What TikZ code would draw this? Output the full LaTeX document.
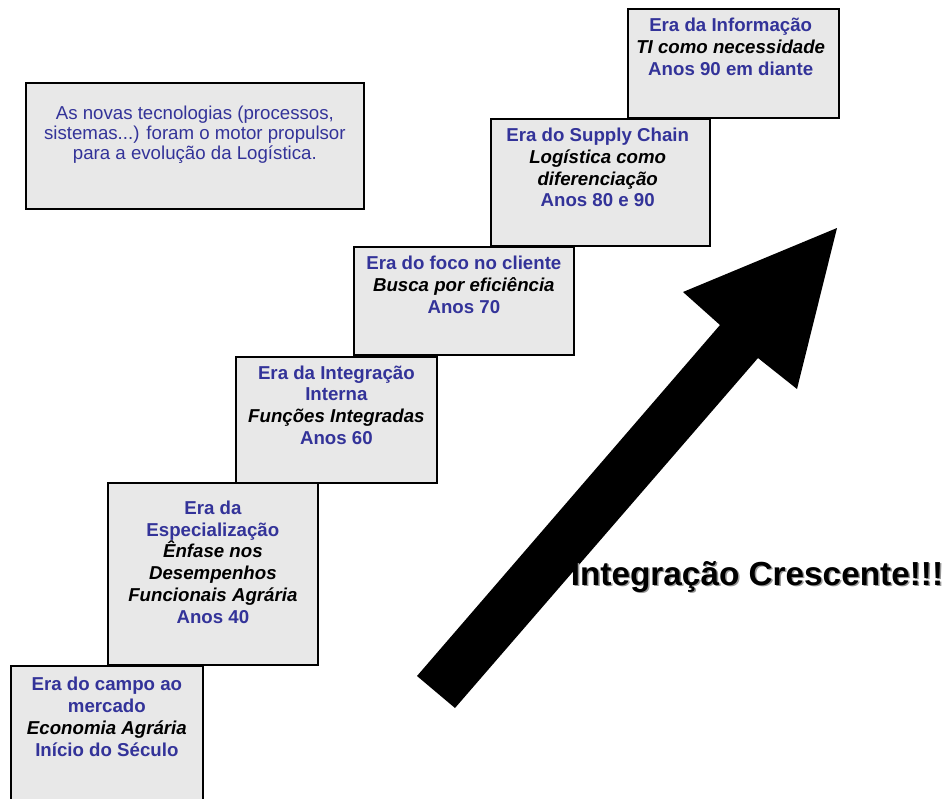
\documentclass[tikz,border=0pt]{standalone}
\usepackage{fontspec}
\setmainfont{Liberation Sans}
\usetikzlibrary{positioning}
\definecolor{caixaCinza}{RGB}{232,232,232}
\definecolor{textoAzul}{RGB}{51,51,153}
\definecolor{sombraCinza}{RGB}{150,150,150}
\newcommand{\enfase}[1]{{\color{black}\itshape #1}}

\begin{document}
\begin{tikzpicture}[x=0.75pt, y=-0.75pt,
    caixa/.style={draw=black, fill=caixaCinza, line width=1.3pt, inner sep=0pt, anchor=north west},
    rotulo/.style={align=center, inner sep=0pt, text=textoAzul,
        font=\fontsize{14}{16.3}\selectfont\bfseries},
    nota/.style={align=center, inner sep=0pt, text=textoAzul,
        font=\fontsize{14}{15}\selectfont}]
    % Parâmetros: 1 unidade = 1 pixel da figura
    \def\px{0.75pt}
    \useasboundingbox (0,0) rectangle (946,799);

    % 1. DEGRAUS (de baixo para cima)
    \node[caixa, minimum width=192*\px, minimum height=150*\px] (campo)  at (10,665) {};
    \node[caixa, minimum width=210*\px, minimum height=182*\px] (espec)  at (107,482) {};
    \node[caixa, minimum width=201*\px, minimum height=126*\px] (integ)  at (235,356) {};
    \node[caixa, minimum width=220*\px, minimum height=108*\px] (foco)   at (353,246) {};
    \node[caixa, minimum width=219*\px, minimum height=127*\px] (supply) at (490,118) {};
    \node[caixa, minimum width=211*\px, minimum height=109*\px] (info)   at (627,8) {};

    % 2. TEXTOS DOS DEGRAUS
    \node[rotulo, below=9pt of campo.north] (campoTxt)
        {Era do campo ao\\mercado\\\enfase{Economia Agrária}\\Início do Século};
    \node[rotulo, below=14pt of espec.north] (especTxt)
        {Era da\\Especialização\\\enfase{Ênfase nos}\\\enfase{Desempenhos}\\\enfase{Funcionais Agrária}\\Anos 40};
    \node[rotulo, below=7pt of integ.north] (integTxt)
        {Era da Integração\\Interna\\\enfase{Funções Integradas}\\Anos 60};
    \node[rotulo, below=7.5pt of foco.north] (focoTxt)
        {Era do foco no cliente\\\enfase{Busca por eficiência}\\Anos 70};
    \node[rotulo, below=7.5pt of supply.north, xshift=-2pt] (supplyTxt)
        {Era do Supply Chain\\\enfase{Logística como}\\\enfase{diferenciação}\\Anos 80 e 90};
    \node[rotulo, below=7.5pt of info.north, xshift=-2pt] (infoTxt)
        {Era da Informação\\\enfase{TI como necessidade}\\Anos 90 em diante};

    % 3. NOTA
    \node[caixa, minimum width=338*\px, minimum height=126*\px] (notaBox) at (25,82) {};
    \node[nota, below=18pt of notaBox.north] (notaTxt)
        {As novas tecnologias (processos,\\sistemas...) foram o motor propulsor\\para a evolução da Logística.};

    % 4. SETA DE INTEGRAÇÃO
    \fill[black] (417,676) -- (720,325) -- (683,292) -- (837,228)
        -- (797,389) -- (758,358) -- (455,708) -- cycle;

    % 5. LEGENDA (com sombra)
    \node[text=sombraCinza, font=\fontsize{25}{28}\selectfont\bfseries] (legendaSombra)
        at (758.5,578.5) {Integração Crescente!!!};
    \node[text=black, font=\fontsize{25}{28}\selectfont\bfseries] (legenda)
        at (757,577) {Integração Crescente!!!};
\end{tikzpicture}
\end{document}
